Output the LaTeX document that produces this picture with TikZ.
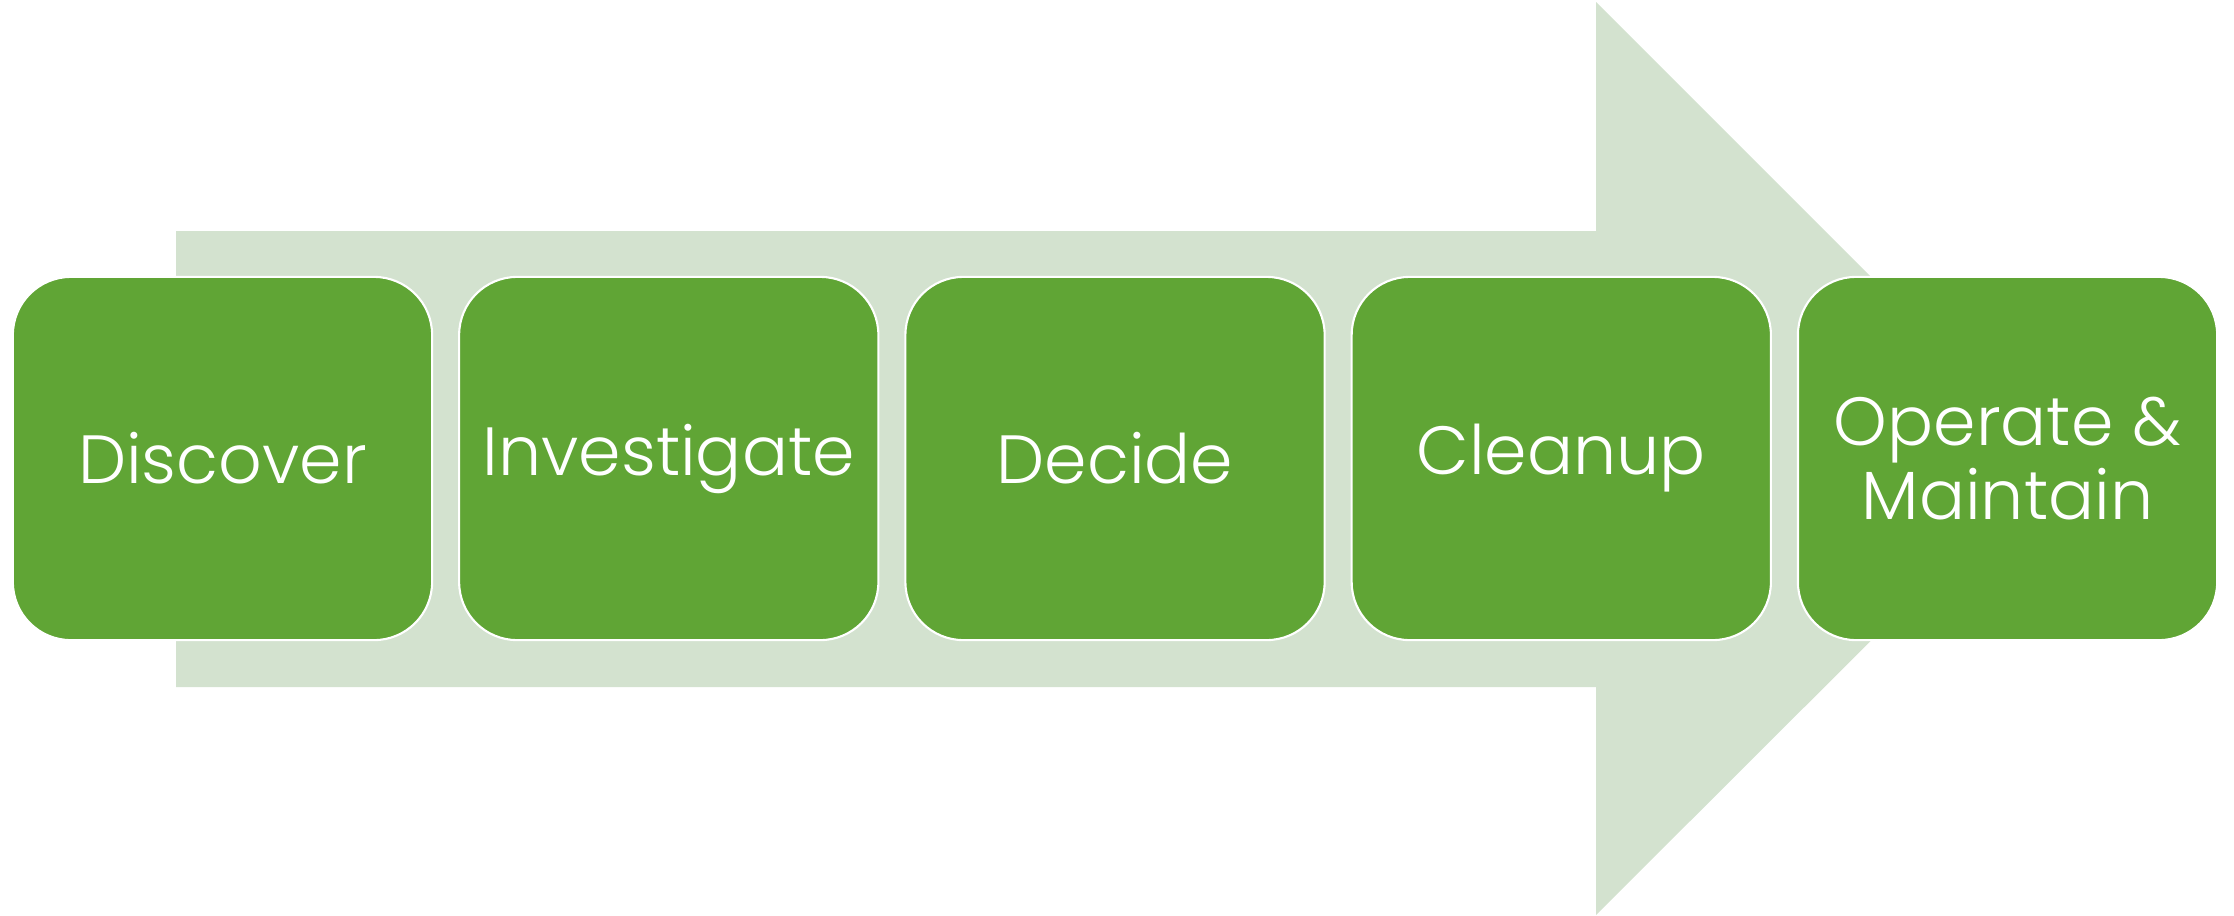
\documentclass[tikz,border=0pt]{standalone}
\usepackage{fontspec}
\IfFontExistsTF{Poppins Light}{\setmainfont{Poppins Light}}{\setmainfont{Poppins}}
\usetikzlibrary{positioning}
\definecolor{stepgreen}{RGB}{96,165,53}
\definecolor{arrowgreen}{RGB}{211,226,207}
\tikzset{%
  phase/.style={fill=stepgreen,draw=white,line width=.6pt,rounded corners=.58cm,
    minimum width=4.19cm,minimum height=3.63cm,inner sep=0pt,outer sep=0pt,
    text=white,align=center,font=\fontsize{19.4}{20.8}\selectfont},
  backarrow/.style={fill=arrowgreen}
}

\begin{document}
\begin{tikzpicture}[x=.01cm,y=-.01cm,node distance=.27cm]
  \useasboundingbox (0,0) rectangle (2234,915);
  % big arrow behind the steps
  \fill[backarrow] (176,231) -- (1596,231) -- (1596,2) -- (2053,459)
    -- (1596,915) -- (1596,687) -- (176,687) -- cycle;

  \node[phase] (discover) at (222.5,458.5) {Discover};
  \node[phase,right=of discover] (investigate) {Investigate};
  \node[phase,right=of investigate] (decide) {Decide};
  \node[phase,right=of decide] (cleanup) {Cleanup};
  \node[phase,right=of cleanup] (operate) {Operate \&\\Maintain};
\end{tikzpicture}
\end{document}
